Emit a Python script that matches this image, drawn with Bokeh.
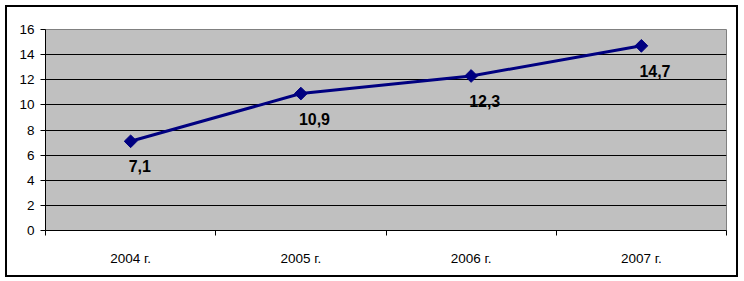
import numpy as np
from bokeh.plotting import figure
from bokeh.models import FixedTicker, Range1d, InlineStyleSheet
from bokeh.core.properties import value
from bokeh.embed import file_html
from bokeh.resources import INLINE

years = ["2004 г.", "2005 г.", "2006 г.", "2007 г."]
values = [7.1, 10.9, 12.3, 14.7]
labels = ["7,1", "10,9", "12,3", "14,7"]
y_ticks = [0, 2, 4, 6, 8, 10, 12, 14, 16]

x = [i + 0.5 for i in range(len(years))]
FONT = "Liberation Sans"

p = figure(width=744, height=281, output_backend="svg", toolbar_location=None,
           x_range=Range1d(0, len(years)), y_range=Range1d(0, 16),
           min_border_left=45, min_border_right=18, min_border_top=29, min_border_bottom=51)
p.stylesheets = [InlineStyleSheet(css=(
    ":host::after { content: ''; position: absolute; left: 5px; top: 5px; "
    "width: 733px; height: 272px; border: 2px solid black; box-sizing: border-box; "
    "pointer-events: none; z-index: 100; }"))]

p.background_fill_color = "#C0C0C0"
p.border_fill_color = "white"
p.outline_line_color = "#808080"
p.outline_line_width = 1

p.xgrid.visible = False
p.ygrid.ticker = FixedTicker(ticks=y_ticks)
p.ygrid.grid_line_color = "black"
p.ygrid.grid_line_width = 1
p.ygrid.grid_line_alpha = 1

ya = p.yaxis[0]
ya.ticker = FixedTicker(ticks=y_ticks)
ya.major_tick_out = 5
ya.major_tick_in = 0
ya.minor_tick_out = 0
ya.minor_tick_in = 0
ya.axis_line_color = "black"
ya.major_tick_line_color = "black"
ya.major_label_text_font = FONT
ya.major_label_text_font_size = "13.5px"
ya.major_label_text_color = "black"
ya.major_label_standoff = 6

xa = p.xaxis[0]
xa.ticker = FixedTicker(ticks=x, minor_ticks=list(range(len(years) + 1)))
xa.major_tick_out = 0
xa.major_tick_in = 0
xa.minor_tick_out = 5
xa.minor_tick_in = 0
xa.minor_tick_line_color = "black"
xa.axis_line_color = "black"
xa.major_label_overrides = {xi: yr for xi, yr in zip(x, years)}
xa.major_label_text_font = FONT
xa.major_label_text_font_size = "13.5px"
xa.major_label_text_color = "black"
xa.major_label_standoff = 15

p.line(x, values, line_color="#000080", line_width=3)
p.scatter(x, values, marker="square", size=9, angle=np.pi / 4,
          fill_color="#000080", line_color="#000080")
p.text(x, values, text=labels, text_font=value(FONT), text_font_style="bold",
       text_font_size="16px", text_align="left", text_baseline="top",
       x_offset=-2, y_offset=19, text_color="black")

open("out.html", "w").write(file_html(p, INLINE))
